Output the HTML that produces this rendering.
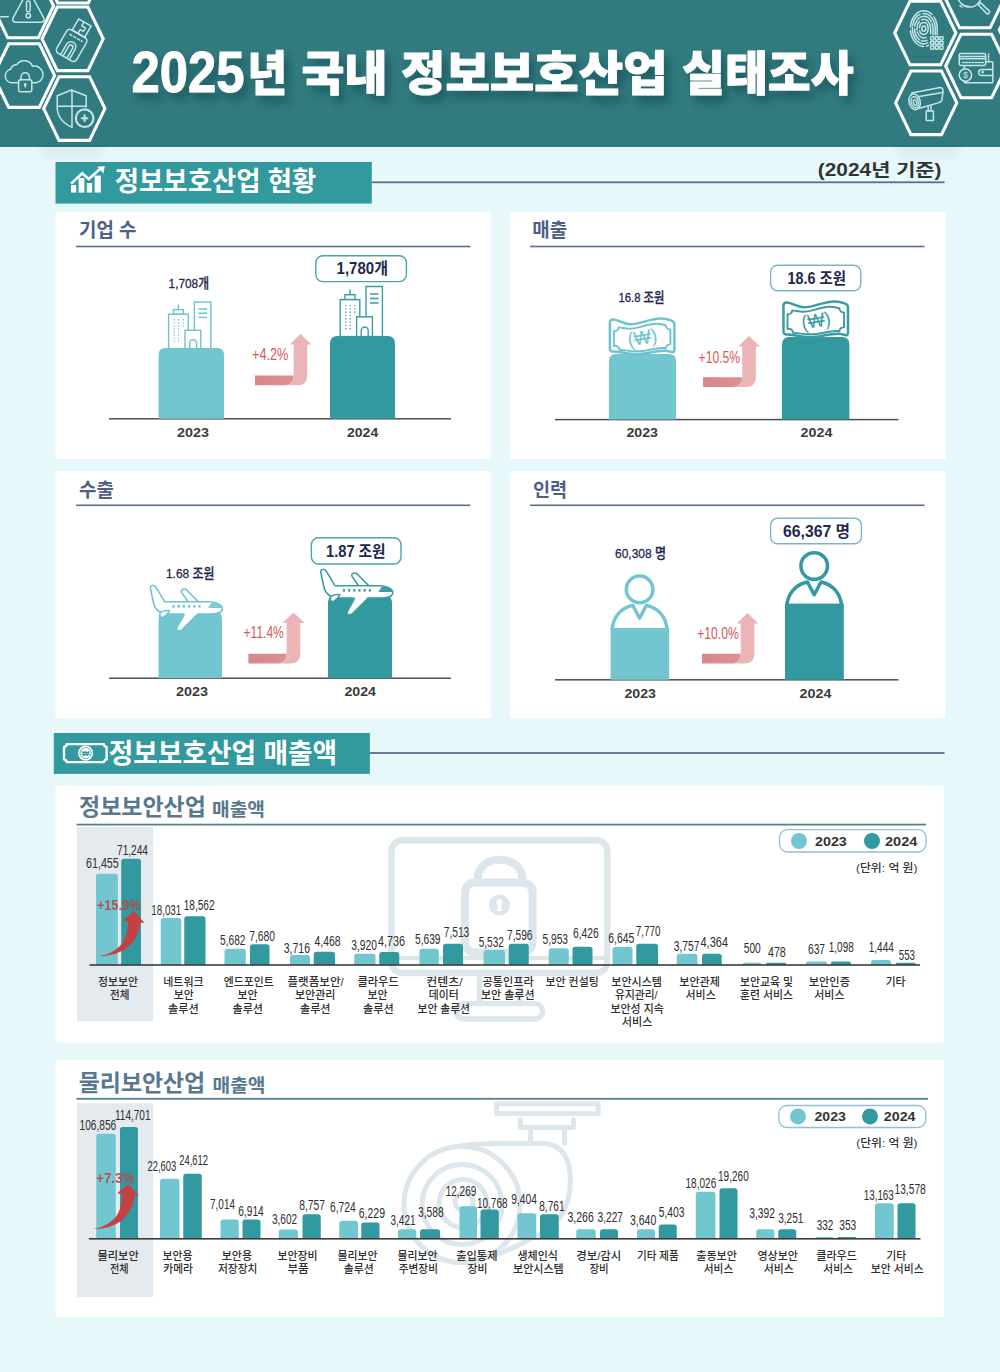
<!DOCTYPE html>
<html lang="ko"><head><meta charset="utf-8"><title>2025년 국내 정보보호산업 실태조사</title>
<style>
html,body{margin:0;padding:0;background:#e6f8f9;}
svg{display:block}
text{font-family:'Liberation Sans','Noto Sans CJK KR',sans-serif;}
</style></head><body>
<svg width="1000" height="1372" viewBox="0 0 1000 1372">
<defs>
<filter id="tsh" x="-5%" y="-30%" width="112%" height="180%"><feDropShadow dx="5" dy="7" stdDeviation="4" flood-color="#0d3338" flood-opacity="0.42"/></filter>
<filter id="hsh" x="-30%" y="-30%" width="160%" height="160%"><feGaussianBlur stdDeviation="5"/></filter>
<linearGradient id="ag" x1="0" x2="1" y1="0" y2="0"><stop offset="0" stop-color="#d8868a"/><stop offset="1" stop-color="#dc9194"/></linearGradient>
</defs>
<rect width="1000" height="1372" fill="#e6f8f9"/>

<rect x="0" y="0" width="1000" height="147" fill="#317b80"/>
<g opacity="0.07" filter="url(#hsh)"><ellipse cx="72" cy="150" rx="34" ry="6" fill="#0d3338"/><ellipse cx="928" cy="150" rx="34" ry="6" fill="#0d3338"/></g>
<clipPath id="hc"><rect x="0" y="0" width="1000" height="147"/></clipPath><g clip-path="url(#hc)">
<polygon points="-7.6,6.0 7.7,-25.8 38.3,-25.8 53.6,6.0 38.3,37.8 7.7,37.8" fill="none" stroke="#ffffff" stroke-width="3.1" stroke-linejoin="miter"/>
<polygon points="42.4,-28.8 57.7,-60.6 88.3,-60.6 103.6,-28.8 88.3,3.0 57.7,3.0" fill="none" stroke="#ffffff" stroke-width="3.1" stroke-linejoin="miter"/>
<polygon points="42.0,38.8 57.3,7.0 87.9,7.0 103.2,38.8 87.9,70.6 57.3,70.6" fill="none" stroke="#ffffff" stroke-width="3.1" stroke-linejoin="miter"/>
<polygon points="-6.6,75.6 8.7,43.8 39.3,43.8 54.6,75.6 39.3,107.4 8.7,107.4" fill="none" stroke="#ffffff" stroke-width="3.1" stroke-linejoin="miter"/>
<polygon points="43.7,108.6 59.0,76.8 89.6,76.8 104.9,108.6 89.6,140.4 59.0,140.4" fill="none" stroke="#ffffff" stroke-width="3.1" stroke-linejoin="miter"/>
<polygon points="894.7,33.0 910.0,1.2 940.6,1.2 955.9,33.0 940.6,64.8 910.0,64.8" fill="none" stroke="#ffffff" stroke-width="3.1" stroke-linejoin="miter"/>
<polygon points="944.2,-4.0 959.5,-35.8 990.1,-35.8 1005.4,-4.0 990.1,27.8 959.5,27.8" fill="none" stroke="#ffffff" stroke-width="3.1" stroke-linejoin="miter"/>
<polygon points="945.7,66.0 961.0,34.2 991.6,34.2 1006.9,66.0 991.6,97.8 961.0,97.8" fill="none" stroke="#ffffff" stroke-width="3.1" stroke-linejoin="miter"/>
<polygon points="895.6,102.8 910.9,71.0 941.5,71.0 956.8,102.8 941.5,134.6 910.9,134.6" fill="none" stroke="#ffffff" stroke-width="3.1" stroke-linejoin="miter"/>
<polygon points="999.4,30.0 1014.7,-1.8 1045.3,-1.8 1060.6,30.0 1045.3,61.8 1014.7,61.8" fill="none" stroke="#ffffff" stroke-width="3.1" stroke-linejoin="miter"/>
<g fill="none" stroke="#c4e6e7" stroke-width="1.5" stroke-linecap="round" stroke-linejoin="round"><path d="M13.2,17.6 L26,-6 Q28.4,-9.5 30.8,-6 L43.6,17.6 Q45.4,22 41,22.2 L15.8,22.2 Q11.4,22 13.2,17.6 Z"/><rect x="26.5" y="1" width="3.6" height="11" rx="1.7"/><circle cx="28.3" cy="15.8" r="2.2"/><path d="M0,16.8 H8.2"/></g>
<g fill="none" stroke="#c4e6e7" stroke-width="1.5" stroke-linecap="round" stroke-linejoin="round" transform="translate(73.4,42.4) rotate(30)"><rect x="-11.5" y="-10" width="23" height="27" rx="4"/><rect x="-7.2" y="-23" width="14.4" height="13"/><path d="M-1,-23 V-18.5 H3.2 V-14.5 H-0.5 V-10" /><path d="M-7,-5.2 H7" stroke-dasharray="2.2 2.2"/><path d="M-5,17 V5 A5,5 0 0 1 5,5 V17"/><path d="M-2.2,17 V5.5 A2.2,2.2 0 0 1 2.2,5.5 V17"/></g>
<g fill="none" stroke="#c4e6e7" stroke-width="1.5" stroke-linecap="round" stroke-linejoin="round"><path d="M18.6,82.8 H11.8 A6.9,6.9 0 0 1 10.6,69.2 A7,7 0 0 1 16.6,64.6 A9.2,9.2 0 0 1 32.6,66.2 A7.6,7.6 0 0 1 36.4,82.8 H31.8"/><rect x="18.6" y="79.8" width="13.2" height="12" rx="2"/><path d="M21,79.8 V77 A4.2,4.2 0 0 1 29.4,77 V79.8"/><path d="M25.2,84.6 V87"/><circle cx="25.2" cy="84.4" r="0.7"/></g>
<g fill="none" stroke="#c4e6e7" stroke-width="1.5" stroke-linecap="round" stroke-linejoin="round"><path d="M71.6,90 L57.2,95.8 V108 Q57.6,120.5 72,127.4 L72,90.2 L86.2,95.8 V107"/><path d="M57.3,106.2 H86"/><circle cx="84.6" cy="118.2" r="8.8" stroke-width="2.2"/><path d="M84.6,115.4 V121 M81.8,118.2 H87.4" stroke-width="2.1"/></g>
<g fill="none" stroke="#c4e6e7" stroke-width="1.5" stroke-linecap="round" stroke-linejoin="round" stroke-width="1"><ellipse cx="923.8" cy="28.6" rx="2" ry="2.6"/><ellipse cx="923.8" cy="28.6" rx="4.4" ry="6" stroke-dasharray="14 3"/><path d="M930.6,33.8 V28.6 A6.8,9.4 0 0 0 917.0,28.6 A6.8,9.4 0 0 0 926.2,37.4" stroke-dasharray="20 3 9 2"/><path d="M933.0,35.4 V28.6 A9.2,12.4 0 0 0 914.6,28.6 A9.2,12.4 0 0 0 927.0,40.3" stroke-dasharray="12 2 24 3"/><path d="M935.2,37.0 V28.6 A11.4,15.2 0 0 0 912.4,28.6 A11.4,15.2 0 0 0 927.8,42.9" stroke-dasharray="30 3 14 2"/><path d="M937.2,38.4 V28.6 A13.4,17.8 0 0 0 910.4,28.6 A13.4,17.8 0 0 0 928.5,45.3" stroke-dasharray="22 3 32 4"/></g>
<g fill="none" stroke="#c4e6e7" stroke-width="1.5" stroke-linecap="round" stroke-linejoin="round" fill="#317b80" stroke-width="1.1"><rect x="929" y="35.4" width="16" height="16" fill="#317b80" stroke="none"/><rect x="930.6" y="36.8" width="3.2" height="3.2" rx="0.7"/><rect x="935.2" y="36.8" width="3.2" height="3.2" rx="0.7"/><rect x="939.8" y="36.8" width="3.2" height="3.2" rx="0.7"/><rect x="930.6" y="41.4" width="3.2" height="3.2" rx="0.7"/><rect x="935.2" y="41.4" width="3.2" height="3.2" rx="0.7"/><rect x="939.8" y="41.4" width="3.2" height="3.2" rx="0.7"/><rect x="930.6" y="46.0" width="3.2" height="3.2" rx="0.7"/><rect x="935.2" y="46.0" width="3.2" height="3.2" rx="0.7"/><rect x="939.8" y="46.0" width="3.2" height="3.2" rx="0.7"/></g>
<g fill="none" stroke="#c4e6e7" stroke-width="1.5" stroke-linecap="round" stroke-linejoin="round"><circle cx="969.5" cy="-4.5" r="11.6"/><path d="M961,3 Q965,6.2 970,6.6" stroke-width="1"/><path d="M960,5.6 L962,7"/><path d="M978,4.6 L980.4,2.6 L989,10.6 A1.8,1.8 0 0 1 986.4,13.2 Z"/></g>
<g fill="none" stroke="#c4e6e7" stroke-width="1.5" stroke-linecap="round" stroke-linejoin="round" stroke-width="1.1"><rect x="964.2" y="61.8" width="28.6" height="21" rx="0.8"/><rect x="959.3" y="53.4" width="26.4" height="12" rx="1.6" fill="#317b80"/><path d="M959.5,56.4 H985.5 M959.5,58.8 H985.5"/><path d="M962.6,62.4 H983.4" stroke-dasharray="1.6 1.6"/><path d="M992.8,69.6 H981.6 A3,3 0 0 0 981.6,75.6 H992.8"/><circle cx="982.6" cy="72.2" r="0.6"/><circle cx="965.4" cy="75" r="6.2" fill="#317b80"/><path d="M988.6,54 V55 M988.6,56.6 V57.6 M988.6,59.2 V60.2" stroke-dasharray="none"/></g>
<text x="965.40" y="78.20" font-size="9" font-weight="400" fill="#c4e6e7" text-anchor="middle">$</text>
<g fill="none" stroke="#c4e6e7" stroke-width="1.5" stroke-linecap="round" stroke-linejoin="round" stroke-width="1.1"><path d="M911.6,93 L940,87.6 Q943.6,88 943,91.6 L942,99.4 Q941.6,102 939,102.6 L919.6,108.2"/><path d="M917.6,96.8 L942.6,92.4"/><ellipse cx="914.6" cy="101.8" rx="5.6" ry="8" transform="rotate(-14 914.6 101.8)"/><ellipse cx="914.8" cy="102.2" rx="3.6" ry="5.6" transform="rotate(-14 914.8 102.2)"/><ellipse cx="915" cy="102.6" rx="1.6" ry="2.8" transform="rotate(-14 915 102.6)"/><path d="M928.2,106.2 V111 M931,105.6 V111"/><rect x="926.2" y="111" width="7.2" height="9.6"/></g>
</g>
<g filter="url(#tsh)" fill="#ffffff" font-weight="900" stroke="#ffffff" stroke-width="0.9" stroke-linejoin="round">
<text x="131.50" y="92.20" font-size="57.5" font-weight="900" fill="#fff" text-anchor="start" textLength="113.00" lengthAdjust="spacingAndGlyphs">2025</text>
<text x="247.40" y="89.80" font-size="47" font-weight="900" fill="#fff" text-anchor="start" textLength="39.60" lengthAdjust="spacingAndGlyphs">년</text>
<text x="301.60" y="89.80" font-size="47" font-weight="900" fill="#fff" text-anchor="start" textLength="85.80" lengthAdjust="spacingAndGlyphs">국내</text>
<text x="401.00" y="89.80" font-size="47" font-weight="900" fill="#fff" text-anchor="start" textLength="266.60" lengthAdjust="spacingAndGlyphs">정보보호산업</text>
<text x="682.00" y="89.80" font-size="47" font-weight="900" fill="#fff" text-anchor="start" textLength="171.60" lengthAdjust="spacingAndGlyphs">실태조사</text>
</g>
<rect x="55.5" y="162" width="316.3" height="41.6" fill="#32999f"/>
<rect x="371.8" y="181.4" width="572.7" height="1.8" fill="#5b6d90"/>
<g fill="#fff"><rect x="71" y="185" width="5.2" height="7.6"/><rect x="78.6" y="178" width="5.8" height="14.6"/><rect x="86.8" y="183" width="5.3" height="9.6"/><rect x="94.6" y="175.6" width="6.2" height="17"/><path d="M71.2,183.6 L82.2,173.2 L88.8,179 L100.6,168.6" fill="none" stroke="#fff" stroke-width="2.6" stroke-linejoin="miter"/><polygon points="97.2,166.8 104.8,166 103.6,173.6"/></g>
<text x="114.80" y="191.10" font-size="27" font-weight="700" fill="#fff" text-anchor="start" textLength="201.60" lengthAdjust="spacingAndGlyphs">정보보호산업 현황</text>
<text x="817.80" y="176.40" font-size="17.5" font-weight="700" fill="#333" text-anchor="start" textLength="123.70" lengthAdjust="spacingAndGlyphs">(2024년 기준)</text>
<rect x="53.8" y="733" width="316.1" height="40.9" fill="#32999f"/>
<rect x="369.90000000000003" y="752.1" width="574.5999999999999" height="1.8" fill="#5b6d90"/>
<g fill="none" stroke="#fff" stroke-width="2.3" stroke-linejoin="round"><path d="M66.6,744.2 H104 A2.6,2.6 0 0 0 106.6,746.8 V759.6 A2.6,2.6 0 0 0 104,762.2 H66.6 A2.6,2.6 0 0 0 64,759.6 V746.8 A2.6,2.6 0 0 0 66.6,744.2 Z"/></g><circle cx="85.6" cy="753.1" r="7.6" fill="#fff"/><circle cx="85.6" cy="753.1" r="5.6" fill="none" stroke="#32999f" stroke-width="0.8"/>
<text x="85.60" y="756.00" font-size="8" font-weight="700" fill="#32999f" text-anchor="middle">₩</text>
<text x="108.80" y="763.00" font-size="27.4" font-weight="700" fill="#fff" text-anchor="start" textLength="228.20" lengthAdjust="spacingAndGlyphs">정보보호산업 매출액</text>
<rect x="55.5" y="212.3" width="435.5" height="246.7" fill="#fff"/>
<rect x="510" y="212.3" width="435.5" height="246.7" fill="#fff"/>
<rect x="55.5" y="471.2" width="435.5" height="246.8" fill="#fff"/>
<rect x="510" y="471.2" width="435.5" height="246.8" fill="#fff"/>
<text x="79.00" y="237.40" font-size="19.6" font-weight="700" fill="#4d5f86" text-anchor="start" textLength="57.50" lengthAdjust="spacingAndGlyphs">기업 수</text>
<rect x="76" y="245.7" width="394.3" height="1.6" fill="#5b6d90"/>
<text x="532.30" y="237.40" font-size="19.6" font-weight="700" fill="#4d5f86" text-anchor="start" textLength="34.90" lengthAdjust="spacingAndGlyphs">매출</text>
<rect x="530" y="245.7" width="394.5" height="1.6" fill="#5b6d90"/>
<text x="79.00" y="496.60" font-size="19.6" font-weight="700" fill="#4d5f86" text-anchor="start" textLength="34.80" lengthAdjust="spacingAndGlyphs">수출</text>
<rect x="76" y="504.5" width="394.3" height="1.6" fill="#5b6d90"/>
<text x="533.00" y="496.60" font-size="19.6" font-weight="700" fill="#4d5f86" text-anchor="start" textLength="34.20" lengthAdjust="spacingAndGlyphs">인력</text>
<rect x="530" y="504.5" width="394.5" height="1.6" fill="#5b6d90"/>
<rect x="109" y="418.05" width="342" height="1.5" fill="#4f4f4f"/>
<path d="M158.6,418.8 V355 Q158.6,348 165.6,348 H217 Q224,348 224,355 V418.8 Z" fill="#72c6cf"/>
<g transform="translate(168.6,348.6) scale(1,1.0)" fill="#fff" stroke="#6ec4cd" stroke-width="1.4" stroke-linejoin="miter"><path d="M9.8,-44 V-39" fill="none"/><rect x="4.8" y="-39" width="10" height="4.6"/><rect x="0" y="-34.4" width="19.6" height="34.4"/><rect x="25.8" y="-46.6" width="16.4" height="46.6"/><path d="M29.8,-39.6 H38.4 M29.8,-35.4 H38.4 M29.8,-31.2 H38.4" fill="none"/><rect x="16.4" y="-18.4" width="15.8" height="18.4"/><path d="M21,0 V-5.4 A3.5,3.5 0 0 1 28,-5.4 V0" fill="none"/><path d="M5.6,-29.5 V-6" fill="none" stroke-width="1.2" stroke-dasharray="1.3 1.77"/><path d="M10,-29.5 V-6" fill="none" stroke-width="1.2" stroke-dasharray="1.3 1.77"/><path d="M14.6,-29.5 V-21.4" fill="none" stroke-width="1.2" stroke-dasharray="1.3 1.77"/></g>
<path d="M330,418.8 V343.5 Q330,336 337.5,336 H387.5 Q395,336 395,343.5 V418.8 Z" fill="#31999f"/>
<g transform="translate(340.2,336.6) scale(1,1.075)" fill="#fff" stroke="#3a9ca3" stroke-width="1.4" stroke-linejoin="miter"><path d="M9.8,-44 V-39" fill="none"/><rect x="4.8" y="-39" width="10" height="4.6"/><rect x="0" y="-34.4" width="19.6" height="34.4"/><rect x="25.8" y="-46.6" width="16.4" height="46.6"/><path d="M29.8,-39.6 H38.4 M29.8,-35.4 H38.4 M29.8,-31.2 H38.4" fill="none"/><rect x="16.4" y="-18.4" width="15.8" height="18.4"/><path d="M21,0 V-5.4 A3.5,3.5 0 0 1 28,-5.4 V0" fill="none"/><path d="M5.6,-29.5 V-6" fill="none" stroke-width="1.2" stroke-dasharray="1.3 1.77"/><path d="M10,-29.5 V-6" fill="none" stroke-width="1.2" stroke-dasharray="1.3 1.77"/><path d="M14.6,-29.5 V-21.4" fill="none" stroke-width="1.2" stroke-dasharray="1.3 1.77"/></g>
<text x="168.60" y="288.00" font-size="13.6" font-weight="500" fill="#1f2850" text-anchor="start" textLength="40.40" lengthAdjust="spacingAndGlyphs" stroke="#1f2850" stroke-width="0.3">1,708개</text>
<rect x="315.8" y="255.8" width="90.59999999999997" height="25.80000000000001" rx="7" fill="#fff" stroke="#4ea3ab" stroke-width="1.4"/>
<text x="336.60" y="274.20" font-size="15.6" font-weight="700" fill="#1f2850" text-anchor="start" textLength="51.40" lengthAdjust="spacingAndGlyphs">1,780개</text>
<text x="252.00" y="359.80" font-size="16" font-weight="400" fill="#d9575a" text-anchor="start" textLength="36.40" lengthAdjust="spacingAndGlyphs">+4.2%</text>
<path d="M255,375.4 H293.7 Q293.7,385.2 282.7,385.2 H255 Z" fill="url(#ag)"/>
<path d="M293.7,344.6 H289.7 L300.5,334 L311.3,344.6 H307.3 V375.2 Q307.3,385.2 297.3,385.2 H282.7 Q293.7,385.2 293.7,375.4 Z" fill="#ebb4b6"/>
<text x="177.00" y="437.20" font-size="12.6" font-weight="700" fill="#3a3a3a" text-anchor="start" textLength="32.00" lengthAdjust="spacingAndGlyphs">2023</text>
<text x="347.00" y="437.20" font-size="12.6" font-weight="700" fill="#3a3a3a" text-anchor="start" textLength="31.20" lengthAdjust="spacingAndGlyphs">2024</text>
<rect x="555" y="418.85" width="343.5" height="1.5" fill="#4f4f4f"/>
<path d="M609,419.6 V361 Q609,354 616,354 H669 Q676,354 676,361 V419.6 Z" fill="#72c6cf"/>
<g transform="translate(608,317.8)" fill="#fff" stroke="#6ec4cd" stroke-linejoin="round"><path stroke-width="2.5" d="M1.9,5.6 Q1.6,1.6 5.4,1.7 C11,2 15,6.5 22,6.5 C33,6.5 42,0.6 53,0.7 C58,0.8 61,1.8 63.6,2.8 Q66.4,3.8 66.4,6.6 V31.6 Q66.6,35 63.4,34.2 C60,33.2 58.6,33 56.6,33 C46,33 38,36.4 28,36.3 C18,36.2 12,33.6 5.4,33.6 Q1.9,33.8 1.9,30.6 Z"/><path stroke-width="1.9" fill="none" d="M10.6,9.6 C14,9.8 17,11 21.6,11 C31,11 38,6 48,6 C52,6 55,6.8 57.8,7.4 A4,4 0 0 0 62.4,11.6 V26.6 A4,4 0 0 0 57.8,30.5 C56,30.2 54,30.2 52,30.4 C43,31.2 37,33.6 28,33.5 C21,33.4 16,32.2 11.4,32 A4,4 0 0 0 5.9,28.2 V13.4 A4,4 0 0 0 10.6,9.6 Z"/></g>
<text x="642.40" y="344.20" font-size="19.5" font-weight="400" fill="#6ec4cd" text-anchor="middle" textLength="29.50" lengthAdjust="spacingAndGlyphs" transform="rotate(-9 642.4 337.8)">(₩)</text>
<path d="M782,419.6 V344.5 Q782,337 789.5,337 H841.9 Q849.4,337 849.4,344.5 V419.6 Z" fill="#31999f"/>
<g transform="translate(781.6,300.8)" fill="#fff" stroke="#3a9ca3" stroke-linejoin="round"><path stroke-width="2.5" d="M1.9,5.6 Q1.6,1.6 5.4,1.7 C11,2 15,6.5 22,6.5 C33,6.5 42,0.6 53,0.7 C58,0.8 61,1.8 63.6,2.8 Q66.4,3.8 66.4,6.6 V31.6 Q66.6,35 63.4,34.2 C60,33.2 58.6,33 56.6,33 C46,33 38,36.4 28,36.3 C18,36.2 12,33.6 5.4,33.6 Q1.9,33.8 1.9,30.6 Z"/><path stroke-width="1.9" fill="none" d="M10.6,9.6 C14,9.8 17,11 21.6,11 C31,11 38,6 48,6 C52,6 55,6.8 57.8,7.4 A4,4 0 0 0 62.4,11.6 V26.6 A4,4 0 0 0 57.8,30.5 C56,30.2 54,30.2 52,30.4 C43,31.2 37,33.6 28,33.5 C21,33.4 16,32.2 11.4,32 A4,4 0 0 0 5.9,28.2 V13.4 A4,4 0 0 0 10.6,9.6 Z"/></g>
<text x="816.00" y="327.20" font-size="19.5" font-weight="400" fill="#3a9ca3" text-anchor="middle" textLength="29.50" lengthAdjust="spacingAndGlyphs" transform="rotate(-9 816.0 320.8)">(₩)</text>
<text x="618.40" y="301.60" font-size="13.6" font-weight="500" fill="#1f2850" text-anchor="start" textLength="46.00" lengthAdjust="spacingAndGlyphs" stroke="#1f2850" stroke-width="0.3">16.8 조원</text>
<rect x="770.6" y="265.2" width="90.19999999999993" height="25.600000000000023" rx="7" fill="#fff" stroke="#7db3c4" stroke-width="1.4"/>
<text x="787.60" y="284.20" font-size="15.6" font-weight="700" fill="#1f2850" text-anchor="start" textLength="58.40" lengthAdjust="spacingAndGlyphs">18.6 조원</text>
<text x="698.60" y="362.60" font-size="16" font-weight="400" fill="#d9575a" text-anchor="start" textLength="41.60" lengthAdjust="spacingAndGlyphs">+10.5%</text>
<path d="M703,377.2 H742.2 Q742.2,387 731.2,387 H703 Z" fill="url(#ag)"/>
<path d="M742.2,346.6 H738.2 L749,336 L759.8,346.6 H755.8 V377 Q755.8,387 745.8,387 H731.2 Q742.2,387 742.2,377.2 Z" fill="#ebb4b6"/>
<text x="626.40" y="437.40" font-size="12.6" font-weight="700" fill="#3a3a3a" text-anchor="start" textLength="31.60" lengthAdjust="spacingAndGlyphs">2023</text>
<text x="800.60" y="437.40" font-size="12.6" font-weight="700" fill="#3a3a3a" text-anchor="start" textLength="31.80" lengthAdjust="spacingAndGlyphs">2024</text>
<rect x="109" y="677.45" width="342" height="1.5" fill="#4f4f4f"/>
<path d="M158.6,678.2 V618.6 Q158.6,611.6 165.6,611.6 H215 Q222,611.6 222,618.6 V678.2 Z" fill="#72c6cf"/>
<g transform="translate(149.6,585)" fill="#fff" stroke="#6ec4cd" stroke-width="1.6" stroke-linejoin="round" stroke-linecap="round"><path d="M38.6,16.7 L32.2,7.6 Q30.8,5 33.4,4.2 Q35.6,3.6 37.4,5.2 L48.8,16.7 Z"/><path d="M0.9,3.6 Q0.4,0.6 3.2,0.3 Q5.2,0.2 6.4,2.4 L15,16.7 H60.4 Q68,17 71.4,20.6 Q74.4,24 71,27 Q68.6,28.8 62,29 H21 Q12.6,29.4 8.2,25.4 Q4.6,22.4 3.8,17.6 Z"/><path d="M61.9,17.4 Q67.6,17.6 70.6,20 Q72.6,21.8 72.6,23 H58.4 Z" fill="#7fcbd3" stroke="none"/><path d="M11.4,27 Q15.6,25 19.8,25.8 Q17.8,30.2 14,32.2 Q11,33.2 10.2,30.6 Q10,28.6 11.4,27 Z"/><path d="M34.8,27.6 L27.4,42.4 Q26.4,45.2 28.8,45.8 Q31,46.2 32.8,44.4 L47.4,29.4 L46.6,26.4 Z" stroke="none"/><path d="M34.4,29.8 L27.4,42.4 Q26.4,45.2 28.8,45.8 Q31,46.2 32.8,44.4 L47.4,29.8" fill="none"/><rect x="22.8" y="19.9" width="2.2" height="2.9" rx="0.7" fill="#6ec4cd" stroke="none"/><rect x="28.0" y="19.9" width="2.2" height="2.9" rx="0.7" fill="#6ec4cd" stroke="none"/><rect x="33.2" y="19.9" width="2.2" height="2.9" rx="0.7" fill="#6ec4cd" stroke="none"/><rect x="38.4" y="19.9" width="2.2" height="2.9" rx="0.7" fill="#6ec4cd" stroke="none"/><rect x="43.6" y="19.9" width="2.2" height="2.9" rx="0.7" fill="#6ec4cd" stroke="none"/><rect x="48.8" y="19.9" width="2.2" height="2.9" rx="0.7" fill="#6ec4cd" stroke="none"/></g>
<path d="M328,678.2 V603.1 Q328,595.6 335.5,595.6 H384.5 Q392,595.6 392,603.1 V678.2 Z" fill="#31999f"/>
<g transform="translate(320,569)" fill="#fff" stroke="#3a9ca3" stroke-width="1.6" stroke-linejoin="round" stroke-linecap="round"><path d="M38.6,16.7 L32.2,7.6 Q30.8,5 33.4,4.2 Q35.6,3.6 37.4,5.2 L48.8,16.7 Z"/><path d="M0.9,3.6 Q0.4,0.6 3.2,0.3 Q5.2,0.2 6.4,2.4 L15,16.7 H60.4 Q68,17 71.4,20.6 Q74.4,24 71,27 Q68.6,28.8 62,29 H21 Q12.6,29.4 8.2,25.4 Q4.6,22.4 3.8,17.6 Z"/><path d="M61.9,17.4 Q67.6,17.6 70.6,20 Q72.6,21.8 72.6,23 H58.4 Z" fill="#3a9ca3" stroke="none"/><path d="M11.4,27 Q15.6,25 19.8,25.8 Q17.8,30.2 14,32.2 Q11,33.2 10.2,30.6 Q10,28.6 11.4,27 Z"/><path d="M34.8,27.6 L27.4,42.4 Q26.4,45.2 28.8,45.8 Q31,46.2 32.8,44.4 L47.4,29.4 L46.6,26.4 Z" stroke="none"/><path d="M34.4,29.8 L27.4,42.4 Q26.4,45.2 28.8,45.8 Q31,46.2 32.8,44.4 L47.4,29.8" fill="none"/><rect x="22.8" y="19.9" width="2.2" height="2.9" rx="0.7" fill="#3a9ca3" stroke="none"/><rect x="28.0" y="19.9" width="2.2" height="2.9" rx="0.7" fill="#3a9ca3" stroke="none"/><rect x="33.2" y="19.9" width="2.2" height="2.9" rx="0.7" fill="#3a9ca3" stroke="none"/><rect x="38.4" y="19.9" width="2.2" height="2.9" rx="0.7" fill="#3a9ca3" stroke="none"/><rect x="43.6" y="19.9" width="2.2" height="2.9" rx="0.7" fill="#3a9ca3" stroke="none"/><rect x="48.8" y="19.9" width="2.2" height="2.9" rx="0.7" fill="#3a9ca3" stroke="none"/></g>
<text x="166.00" y="577.60" font-size="13.6" font-weight="500" fill="#1f2850" text-anchor="start" textLength="48.40" lengthAdjust="spacingAndGlyphs" stroke="#1f2850" stroke-width="0.3">1.68 조원</text>
<rect x="311.4" y="537.8" width="89.60000000000002" height="26.200000000000045" rx="7" fill="#fff" stroke="#4ea3ab" stroke-width="1.4"/>
<text x="326.00" y="557.00" font-size="15.6" font-weight="700" fill="#1f2850" text-anchor="start" textLength="59.60" lengthAdjust="spacingAndGlyphs">1.87 조원</text>
<text x="243.60" y="638.40" font-size="16" font-weight="400" fill="#d9575a" text-anchor="start" textLength="40.20" lengthAdjust="spacingAndGlyphs">+11.4%</text>
<path d="M248.4,653.8000000000001 H286.7 Q286.7,663.6 275.7,663.6 H248.4 Z" fill="url(#ag)"/>
<path d="M286.7,623.0 H282.7 L293.5,612.4 L304.3,623.0 H300.3 V653.6 Q300.3,663.6 290.3,663.6 H275.7 Q286.7,663.6 286.7,653.8000000000001 Z" fill="#ebb4b6"/>
<text x="176.00" y="696.20" font-size="12.6" font-weight="700" fill="#3a3a3a" text-anchor="start" textLength="32.00" lengthAdjust="spacingAndGlyphs">2023</text>
<text x="344.40" y="696.20" font-size="12.6" font-weight="700" fill="#3a3a3a" text-anchor="start" textLength="31.60" lengthAdjust="spacingAndGlyphs">2024</text>
<rect x="555" y="679.05" width="343.5" height="1.5" fill="#4f4f4f"/>
<g transform="translate(639.6,589.4)" fill="#fff" stroke="#72c6cf" stroke-width="3.5" stroke-linejoin="round" stroke-linecap="round"><path d="M-27.4,41 C-27,28 -19,18.6 -6.8,16 L0,28.8 L6.8,16 C19,18.6 27,28 27.4,41 Z"/><circle cx="0" cy="0" r="13.3"/></g>
<rect x="610.6" y="628" width="58.6" height="51.8" fill="#72c6cf"/>
<g transform="translate(814.2,566)" fill="#fff" stroke="#31999f" stroke-width="3.5" stroke-linejoin="round" stroke-linecap="round"><path d="M-27.4,41 C-27,28 -19,18.6 -6.8,16 L0,28.8 L6.8,16 C19,18.6 27,28 27.4,41 Z"/><circle cx="0" cy="0" r="13.3"/></g>
<rect x="785" y="603.6" width="58.8" height="76.2" fill="#31999f"/>
<text x="615.00" y="558.00" font-size="13.6" font-weight="500" fill="#1f2850" text-anchor="start" textLength="51.00" lengthAdjust="spacingAndGlyphs" stroke="#1f2850" stroke-width="0.3">60,308 명</text>
<rect x="770.6" y="518.2" width="90.79999999999995" height="25.59999999999991" rx="7" fill="#fff" stroke="#7db3c4" stroke-width="1.4"/>
<text x="783.00" y="537.40" font-size="15.6" font-weight="700" fill="#1f2850" text-anchor="start" textLength="67.00" lengthAdjust="spacingAndGlyphs">66,367 명</text>
<text x="697.20" y="639.20" font-size="16" font-weight="400" fill="#d9575a" text-anchor="start" textLength="41.60" lengthAdjust="spacingAndGlyphs">+10.0%</text>
<path d="M702,653.8000000000001 H740.7 Q740.7,663.6 729.7,663.6 H702 Z" fill="url(#ag)"/>
<path d="M740.7,623.6 H736.7 L747.5,613 L758.3,623.6 H754.3 V653.6 Q754.3,663.6 744.3,663.6 H729.7 Q740.7,663.6 740.7,653.8000000000001 Z" fill="#ebb4b6"/>
<text x="624.40" y="697.60" font-size="12.6" font-weight="700" fill="#3a3a3a" text-anchor="start" textLength="31.60" lengthAdjust="spacingAndGlyphs">2023</text>
<text x="799.60" y="697.60" font-size="12.6" font-weight="700" fill="#3a3a3a" text-anchor="start" textLength="32.00" lengthAdjust="spacingAndGlyphs">2024</text>
<rect x="55.5" y="786" width="888.3" height="256.5" fill="#fff"/>
<text x="79.00" y="815.20" font-size="22.8" font-weight="700" fill="#58788f" text-anchor="start" textLength="126.80" lengthAdjust="spacingAndGlyphs">정보보안산업</text>
<text x="212.00" y="815.80" font-size="18.2" font-weight="700" fill="#58788f" text-anchor="start" textLength="53.00" lengthAdjust="spacingAndGlyphs">매출액</text>
<rect x="76.5" y="823.7" width="849.5" height="1.8" fill="#588094"/>
<rect x="77" y="827" width="76" height="194.29999999999995" fill="#e4eaee"/>
<g fill="none" stroke="#dde6ea" stroke-linejoin="round" stroke-linecap="round"><rect x="391.4" y="840.2" width="215.9" height="132.8" rx="11" stroke-width="6.4"/><path d="M392,958 H607" stroke-width="4.6"/><path d="M479.6,976 V1002 M519.6,976 V1002" stroke-width="5.4"/><rect x="456" y="1003.6" width="86.6" height="15.4" rx="7.7" stroke-width="5.4"/><rect x="465" y="882.4" width="67.6" height="70" rx="10" stroke-width="8"/><path d="M478,881 V877 A22,17.2 0 0 1 522,877 V881" stroke-width="8"/></g><circle cx="499.4" cy="905" r="10.6" fill="#dde6ea"/><path d="M499.4,899 a3,3 0 0 1 1.7,5.5 l0.8,6.4 h-5 l0.8,-6.4 a3,3 0 0 1 1.7,-5.5 z" fill="#ffffff"/>
<rect x="779.5" y="829.6" width="146.5" height="22.399999999999977" rx="8" fill="#fff" stroke="#8fc0d3" stroke-width="1.3"/>
<circle cx="799" cy="841" r="8" fill="#72c6cf"/><circle cx="872" cy="841" r="8" fill="#31999f"/>
<text x="815.00" y="845.70" font-size="13.4" font-weight="700" fill="#333" text-anchor="start" textLength="31.80" lengthAdjust="spacingAndGlyphs">2023</text>
<text x="885.00" y="845.70" font-size="13.4" font-weight="700" fill="#333" text-anchor="start" textLength="32.50" lengthAdjust="spacingAndGlyphs">2024</text>
<text x="856.00" y="872.40" font-size="11.6" font-weight="500" fill="#333" text-anchor="start" textLength="61.50" lengthAdjust="spacingAndGlyphs">(단위: 억 원)</text>
<path d="M96,965 V876.55 Q96,873.75 98.8,873.75 H115.0 Q117.8,873.75 117.8,876.55 V965 Z" fill="#72c6cf"/>
<path d="M121.2,965 V861.55 Q121.2,858.75 124.0,858.75 H138.2 Q141,858.75 141,861.55 V965 Z" fill="#31999f"/>
<path d="M160.75,965 V920.8 Q160.75,918 163.55,918 H178.45 Q181.25,918 181.25,920.8 V965 Z" fill="#72c6cf"/>
<path d="M184.25,965 V919.05 Q184.25,916.25 187.05,916.25 H202.7 Q205.5,916.25 205.5,919.05 V965 Z" fill="#31999f"/>
<path d="M224.5,965 V951.55 Q224.5,948.75 227.3,948.75 H242.95 Q245.75,948.75 245.75,951.55 V965 Z" fill="#72c6cf"/>
<path d="M250,965 V947.05 Q250,944.25 252.8,944.25 H266.7 Q269.5,944.25 269.5,947.05 V965 Z" fill="#31999f"/>
<path d="M290,965 V957.8 Q290,955 292.8,955 H307.2 Q310,955 310,957.8 V965 Z" fill="#72c6cf"/>
<path d="M313.75,965 V954.55 Q313.75,951.75 316.55,951.75 H332.2 Q335,951.75 335,954.55 V965 Z" fill="#31999f"/>
<path d="M354.25,965 V956.55 Q354.25,953.75 357.05,953.75 H372.7 Q375.5,953.75 375.5,956.55 V965 Z" fill="#72c6cf"/>
<path d="M379.25,965 V954.8 Q379.25,952 382.05,952 H396.45 Q399.25,952 399.25,954.8 V965 Z" fill="#31999f"/>
<path d="M419.5,965 V951.55 Q419.5,948.75 422.3,948.75 H435.95 Q438.75,948.75 438.75,951.55 V965 Z" fill="#72c6cf"/>
<path d="M443,965 V946.55 Q443,943.75 445.8,943.75 H460.2 Q463,943.75 463,946.55 V965 Z" fill="#31999f"/>
<path d="M483.6,965 V952.8 Q483.6,950 486.40000000000003,950 H502.2 Q505,950 505,952.8 V965 Z" fill="#72c6cf"/>
<path d="M508.75,965 V946.55 Q508.75,943.75 511.55,943.75 H525.95 Q528.75,943.75 528.75,946.55 V965 Z" fill="#31999f"/>
<path d="M548.75,965 V951.05 Q548.75,948.25 551.55,948.25 H565.95 Q568.75,948.25 568.75,951.05 V965 Z" fill="#72c6cf"/>
<path d="M572.5,965 V949.55 Q572.5,946.75 575.3,946.75 H589.7 Q592.5,946.75 592.5,949.55 V965 Z" fill="#31999f"/>
<path d="M612.5,965 V949.8 Q612.5,947 615.3,947 H629.7 Q632.5,947 632.5,949.8 V965 Z" fill="#72c6cf"/>
<path d="M636.25,965 V946.55 Q636.25,943.75 639.05,943.75 H655.2 Q658,943.75 658,946.55 V965 Z" fill="#31999f"/>
<path d="M676.75,965 V956.55 Q676.75,953.75 679.55,953.75 H694.7 Q697.5,953.75 697.5,956.55 V965 Z" fill="#72c6cf"/>
<path d="M702,965 V956.55 Q702,953.75 704.8,953.75 H718.95 Q721.75,953.75 721.75,956.55 V965 Z" fill="#31999f"/>
<path d="M743,965 V963.9 Q743,962.8 744.1,962.8 H759.9 Q761,962.8 761,963.9 V965 Z" fill="#72c6cf"/>
<path d="M766,965 V963.9 Q766,962.8 767.1,962.8 H784.9 Q786,962.8 786,963.9 V965 Z" fill="#31999f"/>
<path d="M806,965 V963.3 Q806,961.6 807.7,961.6 H825.3 Q827,961.6 827,963.3 V965 Z" fill="#72c6cf"/>
<path d="M831,965 V963.3 Q831,961.6 832.7,961.6 H849.05 Q850.75,961.6 850.75,963.3 V965 Z" fill="#31999f"/>
<path d="M871,965 V962.5 Q871,960 873.5,960 H888.5 Q891,960 891,962.5 V965 Z" fill="#72c6cf"/>
<path d="M895.75,965 V963.9 Q895.75,962.8 896.85,962.8 H914.4 Q915.5,962.8 915.5,963.9 V965 Z" fill="#31999f"/>
<rect x="89.5" y="964.2" width="830.5" height="1.6" fill="#3c3c3c"/>
<text x="86.00" y="867.50" font-size="14.2" font-weight="400" fill="#2d2d2d" text-anchor="start" textLength="32.75" lengthAdjust="spacingAndGlyphs">61,455</text>
<text x="117.00" y="854.50" font-size="14.2" font-weight="400" fill="#2d2d2d" text-anchor="start" textLength="31.00" lengthAdjust="spacingAndGlyphs">71,244</text>
<text x="151.25" y="915.00" font-size="14.2" font-weight="400" fill="#2d2d2d" text-anchor="start" textLength="30.00" lengthAdjust="spacingAndGlyphs">18,031</text>
<text x="183.75" y="910.00" font-size="14.2" font-weight="400" fill="#2d2d2d" text-anchor="start" textLength="30.75" lengthAdjust="spacingAndGlyphs">18,562</text>
<text x="220.00" y="945.00" font-size="14.2" font-weight="400" fill="#2d2d2d" text-anchor="start" textLength="25.50" lengthAdjust="spacingAndGlyphs">5,682</text>
<text x="249.25" y="940.50" font-size="14.2" font-weight="400" fill="#2d2d2d" text-anchor="start" textLength="25.75" lengthAdjust="spacingAndGlyphs">7,680</text>
<text x="283.75" y="952.50" font-size="14.2" font-weight="400" fill="#2d2d2d" text-anchor="start" textLength="26.25" lengthAdjust="spacingAndGlyphs">3,716</text>
<text x="314.50" y="945.50" font-size="14.2" font-weight="400" fill="#2d2d2d" text-anchor="start" textLength="26.00" lengthAdjust="spacingAndGlyphs">4,468</text>
<text x="351.25" y="950.00" font-size="14.2" font-weight="400" fill="#2d2d2d" text-anchor="start" textLength="25.75" lengthAdjust="spacingAndGlyphs">3,920</text>
<text x="378.00" y="945.50" font-size="14.2" font-weight="400" fill="#2d2d2d" text-anchor="start" textLength="27.00" lengthAdjust="spacingAndGlyphs">4,736</text>
<text x="415.00" y="944.25" font-size="14.2" font-weight="400" fill="#2d2d2d" text-anchor="start" textLength="25.50" lengthAdjust="spacingAndGlyphs">5,639</text>
<text x="443.75" y="937.00" font-size="14.2" font-weight="400" fill="#2d2d2d" text-anchor="start" textLength="25.50" lengthAdjust="spacingAndGlyphs">7,513</text>
<text x="478.75" y="947.00" font-size="14.2" font-weight="400" fill="#2d2d2d" text-anchor="start" textLength="25.00" lengthAdjust="spacingAndGlyphs">5,532</text>
<text x="507.00" y="940.00" font-size="14.2" font-weight="400" fill="#2d2d2d" text-anchor="start" textLength="25.50" lengthAdjust="spacingAndGlyphs">7,596</text>
<text x="542.50" y="943.75" font-size="14.2" font-weight="400" fill="#2d2d2d" text-anchor="start" textLength="25.50" lengthAdjust="spacingAndGlyphs">5,953</text>
<text x="573.00" y="937.50" font-size="14.2" font-weight="400" fill="#2d2d2d" text-anchor="start" textLength="25.75" lengthAdjust="spacingAndGlyphs">6,426</text>
<text x="608.25" y="942.50" font-size="14.2" font-weight="400" fill="#2d2d2d" text-anchor="start" textLength="26.00" lengthAdjust="spacingAndGlyphs">6,645</text>
<text x="635.75" y="935.50" font-size="14.2" font-weight="400" fill="#2d2d2d" text-anchor="start" textLength="24.75" lengthAdjust="spacingAndGlyphs">7,770</text>
<text x="673.75" y="951.25" font-size="14.2" font-weight="400" fill="#2d2d2d" text-anchor="start" textLength="25.75" lengthAdjust="spacingAndGlyphs">3,757</text>
<text x="700.50" y="947.00" font-size="14.2" font-weight="400" fill="#2d2d2d" text-anchor="start" textLength="27.50" lengthAdjust="spacingAndGlyphs">4,364</text>
<text x="743.75" y="953.25" font-size="14.2" font-weight="400" fill="#2d2d2d" text-anchor="start" textLength="17.00" lengthAdjust="spacingAndGlyphs">500</text>
<text x="768.00" y="957.00" font-size="14.2" font-weight="400" fill="#2d2d2d" text-anchor="start" textLength="17.75" lengthAdjust="spacingAndGlyphs">478</text>
<text x="808.00" y="953.75" font-size="14.2" font-weight="400" fill="#2d2d2d" text-anchor="start" textLength="17.00" lengthAdjust="spacingAndGlyphs">637</text>
<text x="828.75" y="951.75" font-size="14.2" font-weight="400" fill="#2d2d2d" text-anchor="start" textLength="25.00" lengthAdjust="spacingAndGlyphs">1,098</text>
<text x="868.75" y="951.75" font-size="14.2" font-weight="400" fill="#2d2d2d" text-anchor="start" textLength="25.00" lengthAdjust="spacingAndGlyphs">1,444</text>
<text x="898.75" y="960.00" font-size="14.2" font-weight="400" fill="#2d2d2d" text-anchor="start" textLength="16.25" lengthAdjust="spacingAndGlyphs">553</text>
<text x="98.00" y="986.00" font-size="11.7" font-weight="500" fill="#2f2f2f" text-anchor="start" textLength="40.00" lengthAdjust="spacingAndGlyphs">정보보안</text>
<text x="110.00" y="999.40" font-size="11.7" font-weight="500" fill="#2f2f2f" text-anchor="start" textLength="19.50" lengthAdjust="spacingAndGlyphs">전체</text>
<text x="163.25" y="986.00" font-size="11.7" font-weight="500" fill="#2f2f2f" text-anchor="start" textLength="40.50" lengthAdjust="spacingAndGlyphs">네트워크</text>
<text x="173.75" y="999.40" font-size="11.7" font-weight="500" fill="#2f2f2f" text-anchor="start" textLength="20.00" lengthAdjust="spacingAndGlyphs">보안</text>
<text x="168.00" y="1012.80" font-size="11.7" font-weight="500" fill="#2f2f2f" text-anchor="start" textLength="30.75" lengthAdjust="spacingAndGlyphs">솔루션</text>
<text x="223.75" y="986.00" font-size="11.7" font-weight="500" fill="#2f2f2f" text-anchor="start" textLength="50.00" lengthAdjust="spacingAndGlyphs">엔드포인트</text>
<text x="237.50" y="999.40" font-size="11.7" font-weight="500" fill="#2f2f2f" text-anchor="start" textLength="20.00" lengthAdjust="spacingAndGlyphs">보안</text>
<text x="232.50" y="1012.80" font-size="11.7" font-weight="500" fill="#2f2f2f" text-anchor="start" textLength="30.50" lengthAdjust="spacingAndGlyphs">솔루션</text>
<text x="287.50" y="986.00" font-size="11.7" font-weight="500" fill="#2f2f2f" text-anchor="start" textLength="56.25" lengthAdjust="spacingAndGlyphs">플랫폼보안/</text>
<text x="295.00" y="999.40" font-size="11.7" font-weight="500" fill="#2f2f2f" text-anchor="start" textLength="40.50" lengthAdjust="spacingAndGlyphs">보안관리</text>
<text x="300.00" y="1012.80" font-size="11.7" font-weight="500" fill="#2f2f2f" text-anchor="start" textLength="30.50" lengthAdjust="spacingAndGlyphs">솔루션</text>
<text x="357.50" y="986.00" font-size="11.7" font-weight="500" fill="#2f2f2f" text-anchor="start" textLength="41.25" lengthAdjust="spacingAndGlyphs">클라우드</text>
<text x="367.50" y="999.40" font-size="11.7" font-weight="500" fill="#2f2f2f" text-anchor="start" textLength="20.00" lengthAdjust="spacingAndGlyphs">보안</text>
<text x="363.00" y="1012.80" font-size="11.7" font-weight="500" fill="#2f2f2f" text-anchor="start" textLength="30.75" lengthAdjust="spacingAndGlyphs">솔루션</text>
<text x="426.25" y="986.00" font-size="11.7" font-weight="500" fill="#2f2f2f" text-anchor="start" textLength="36.25" lengthAdjust="spacingAndGlyphs">컨텐츠/</text>
<text x="428.75" y="999.40" font-size="11.7" font-weight="500" fill="#2f2f2f" text-anchor="start" textLength="30.00" lengthAdjust="spacingAndGlyphs">데이터</text>
<text x="417.50" y="1012.80" font-size="11.7" font-weight="500" fill="#2f2f2f" text-anchor="start" textLength="52.50" lengthAdjust="spacingAndGlyphs">보안 솔루션</text>
<text x="482.50" y="986.00" font-size="11.7" font-weight="500" fill="#2f2f2f" text-anchor="start" textLength="51.25" lengthAdjust="spacingAndGlyphs">공통인프라</text>
<text x="481.00" y="999.40" font-size="11.7" font-weight="500" fill="#2f2f2f" text-anchor="start" textLength="53.50" lengthAdjust="spacingAndGlyphs">보안 솔루션</text>
<text x="545.50" y="986.00" font-size="11.7" font-weight="500" fill="#2f2f2f" text-anchor="start" textLength="53.25" lengthAdjust="spacingAndGlyphs">보안 컨설팅</text>
<text x="611.25" y="986.00" font-size="11.7" font-weight="500" fill="#2f2f2f" text-anchor="start" textLength="50.75" lengthAdjust="spacingAndGlyphs">보안시스템</text>
<text x="615.00" y="999.40" font-size="11.7" font-weight="500" fill="#2f2f2f" text-anchor="start" textLength="42.50" lengthAdjust="spacingAndGlyphs">유지관리/</text>
<text x="610.50" y="1012.80" font-size="11.7" font-weight="500" fill="#2f2f2f" text-anchor="start" textLength="53.25" lengthAdjust="spacingAndGlyphs">보안성 지속</text>
<text x="621.75" y="1026.20" font-size="11.7" font-weight="500" fill="#2f2f2f" text-anchor="start" textLength="30.75" lengthAdjust="spacingAndGlyphs">서비스</text>
<text x="679.25" y="986.00" font-size="11.7" font-weight="500" fill="#2f2f2f" text-anchor="start" textLength="40.75" lengthAdjust="spacingAndGlyphs">보안관제</text>
<text x="685.50" y="999.40" font-size="11.7" font-weight="500" fill="#2f2f2f" text-anchor="start" textLength="30.25" lengthAdjust="spacingAndGlyphs">서비스</text>
<text x="740.00" y="986.00" font-size="11.7" font-weight="500" fill="#2f2f2f" text-anchor="start" textLength="53.00" lengthAdjust="spacingAndGlyphs">보안교육 및</text>
<text x="740.00" y="999.40" font-size="11.7" font-weight="500" fill="#2f2f2f" text-anchor="start" textLength="53.00" lengthAdjust="spacingAndGlyphs">훈련 서비스</text>
<text x="808.75" y="986.00" font-size="11.7" font-weight="500" fill="#2f2f2f" text-anchor="start" textLength="41.25" lengthAdjust="spacingAndGlyphs">보안인증</text>
<text x="814.25" y="999.40" font-size="11.7" font-weight="500" fill="#2f2f2f" text-anchor="start" textLength="30.25" lengthAdjust="spacingAndGlyphs">서비스</text>
<text x="885.75" y="986.00" font-size="11.7" font-weight="500" fill="#2f2f2f" text-anchor="start" textLength="19.75" lengthAdjust="spacingAndGlyphs">기타</text>
<text x="96.90" y="910.00" font-size="15.5" font-weight="700" fill="#bd4449" text-anchor="start" textLength="43.40" lengthAdjust="spacingAndGlyphs" opacity="0.9">+15.9%</text>
<path transform="translate(0,0)" d="M99,955.8 C106,955.4 113,952 118.6,947.2 C124.6,942 127.6,933 128.1,921.7 L123.1,920.4 L134,911 L144.5,922.9 L140.2,922.4 C139.4,933 134,942.6 126,948.6 C118.6,953.8 108,956.6 99,955.8 Z" fill="#c53f43"/>
<rect x="55.5" y="1059.5" width="888.3" height="257.5" fill="#fff"/>
<text x="78.75" y="1091.40" font-size="22.8" font-weight="700" fill="#58788f" text-anchor="start" textLength="126.45" lengthAdjust="spacingAndGlyphs">물리보안산업</text>
<text x="212.50" y="1091.80" font-size="18.2" font-weight="700" fill="#58788f" text-anchor="start" textLength="53.00" lengthAdjust="spacingAndGlyphs">매출액</text>
<rect x="76.5" y="1097.8999999999999" width="851.5" height="1.8" fill="#588094"/>
<rect x="77" y="1103.3" width="76" height="193.70000000000005" fill="#e4eaee"/>
<g fill="none" stroke="#dde6ea" stroke-width="5" stroke-linejoin="round" stroke-linecap="round"><rect x="496.6" y="1103.8" width="101.6" height="9.8"/><path d="M520.4,1119.6 V1127.6 H573.4 V1119.6 M530.6,1128 V1143 M564.6,1128 V1143"/><circle cx="462" cy="1204.6" r="58"/><circle cx="462" cy="1204.6" r="40"/><circle cx="463" cy="1203.6" r="24"/><circle cx="464" cy="1201.6" r="9"/><path d="M452,1147.4 Q470,1143.6 500,1143.6 H545 Q570,1146 570.4,1180 Q570,1225 530,1239 Q505,1254 470,1262"/></g>
<rect x="778.8" y="1105.5" width="147.0" height="22.0" rx="8" fill="#fff" stroke="#8fc0d3" stroke-width="1.3"/>
<circle cx="798" cy="1116.4" r="8" fill="#72c6cf"/><circle cx="870" cy="1116.4" r="8" fill="#31999f"/>
<text x="814.50" y="1121.10" font-size="13.4" font-weight="700" fill="#333" text-anchor="start" textLength="31.30" lengthAdjust="spacingAndGlyphs">2023</text>
<text x="883.80" y="1121.10" font-size="13.4" font-weight="700" fill="#333" text-anchor="start" textLength="31.70" lengthAdjust="spacingAndGlyphs">2024</text>
<text x="856.20" y="1146.60" font-size="11.6" font-weight="500" fill="#333" text-anchor="start" textLength="61.30" lengthAdjust="spacingAndGlyphs">(단위: 억 원)</text>
<path d="M96.25,1238.8 V1136.55 Q96.25,1133.75 99.05,1133.75 H112.95 Q115.75,1133.75 115.75,1136.55 V1238.8 Z" fill="#72c6cf"/>
<path d="M120,1238.8 V1129.8 Q120,1127 122.8,1127 H135.2 Q138,1127 138,1129.8 V1238.8 Z" fill="#31999f"/>
<path d="M160,1238.8 V1181.55 Q160,1178.75 162.8,1178.75 H176.7 Q179.5,1178.75 179.5,1181.55 V1238.8 Z" fill="#72c6cf"/>
<path d="M183.25,1238.8 V1176.55 Q183.25,1173.75 186.05,1173.75 H198.95 Q201.75,1173.75 201.75,1176.55 V1238.8 Z" fill="#31999f"/>
<path d="M220.5,1238.8 V1222.3 Q220.5,1219.5 223.3,1219.5 H235.95 Q238.75,1219.5 238.75,1222.3 V1238.8 Z" fill="#72c6cf"/>
<path d="M242.5,1238.8 V1222.3 Q242.5,1219.5 245.3,1219.5 H257.7 Q260.5,1219.5 260.5,1222.3 V1238.8 Z" fill="#31999f"/>
<path d="M278.75,1238.8 V1232.3 Q278.75,1229.5 281.55,1229.5 H295.2 Q298,1229.5 298,1232.3 V1238.8 Z" fill="#72c6cf"/>
<path d="M302.5,1238.8 V1217.05 Q302.5,1214.25 305.3,1214.25 H317.95 Q320.75,1214.25 320.75,1217.05 V1238.8 Z" fill="#31999f"/>
<path d="M339.25,1238.8 V1223.55 Q339.25,1220.75 342.05,1220.75 H355.2 Q358,1220.75 358,1223.55 V1238.8 Z" fill="#72c6cf"/>
<path d="M361.25,1238.8 V1225.3 Q361.25,1222.5 364.05,1222.5 H376.7 Q379.5,1222.5 379.5,1225.3 V1238.8 Z" fill="#31999f"/>
<path d="M398,1238.8 V1232.05 Q398,1229.25 400.8,1229.25 H413.45 Q416.25,1229.25 416.25,1232.05 V1238.8 Z" fill="#72c6cf"/>
<path d="M420,1238.8 V1232.05 Q420,1229.25 422.8,1229.25 H437.2 Q440,1229.25 440,1232.05 V1238.8 Z" fill="#31999f"/>
<path d="M459.5,1238.8 V1209.05 Q459.5,1206.25 462.3,1206.25 H474.2 Q477,1206.25 477,1209.05 V1238.8 Z" fill="#72c6cf"/>
<path d="M480.5,1238.8 V1212.3 Q480.5,1209.5 483.3,1209.5 H495.95 Q498.75,1209.5 498.75,1212.3 V1238.8 Z" fill="#31999f"/>
<path d="M517.5,1238.8 V1216.05 Q517.5,1213.25 520.3,1213.25 H533.45 Q536.25,1213.25 536.25,1216.05 V1238.8 Z" fill="#72c6cf"/>
<path d="M540,1238.8 V1217.05 Q540,1214.25 542.8,1214.25 H555.95 Q558.75,1214.25 558.75,1217.05 V1238.8 Z" fill="#31999f"/>
<path d="M576.25,1238.8 V1232.05 Q576.25,1229.25 579.05,1229.25 H592.95 Q595.75,1229.25 595.75,1232.05 V1238.8 Z" fill="#72c6cf"/>
<path d="M600,1238.8 V1232.05 Q600,1229.25 602.8,1229.25 H615.2 Q618,1229.25 618,1232.05 V1238.8 Z" fill="#31999f"/>
<path d="M637,1238.8 V1232.05 Q637,1229.25 639.8,1229.25 H652.2 Q655,1229.25 655,1232.05 V1238.8 Z" fill="#72c6cf"/>
<path d="M658.75,1238.8 V1227.3 Q658.75,1224.5 661.55,1224.5 H673.95 Q676.75,1224.5 676.75,1227.3 V1238.8 Z" fill="#31999f"/>
<path d="M695.75,1238.8 V1194.55 Q695.75,1191.75 698.55,1191.75 H712.7 Q715.5,1191.75 715.5,1194.55 V1238.8 Z" fill="#72c6cf"/>
<path d="M719.5,1238.8 V1191.05 Q719.5,1188.25 722.3,1188.25 H734.7 Q737.5,1188.25 737.5,1191.05 V1238.8 Z" fill="#31999f"/>
<path d="M756.25,1238.8 V1232.05 Q756.25,1229.25 759.05,1229.25 H771.45 Q774.25,1229.25 774.25,1232.05 V1238.8 Z" fill="#72c6cf"/>
<path d="M778.25,1238.8 V1232.05 Q778.25,1229.25 781.05,1229.25 H793.45 Q796.25,1229.25 796.25,1232.05 V1238.8 Z" fill="#31999f"/>
<path d="M815.75,1238.8 V1237.85 Q815.75,1236.9 816.6999999999999,1236.9 H832.3000000000001 Q833.25,1236.9 833.25,1237.85 V1238.8 Z" fill="#72c6cf"/>
<path d="M837.5,1238.8 V1237.85 Q837.5,1236.9 838.4499999999999,1236.9 H855.3000000000001 Q856.25,1236.9 856.25,1237.85 V1238.8 Z" fill="#31999f"/>
<path d="M875,1238.8 V1206.05 Q875,1203.25 877.8,1203.25 H890.95 Q893.75,1203.25 893.75,1206.05 V1238.8 Z" fill="#72c6cf"/>
<path d="M897.5,1238.8 V1206.05 Q897.5,1203.25 900.3,1203.25 H912.7 Q915.5,1203.25 915.5,1206.05 V1238.8 Z" fill="#31999f"/>
<rect x="88.9" y="1238.0" width="831.6" height="1.6" fill="#3c3c3c"/>
<text x="79.50" y="1129.50" font-size="14.2" font-weight="400" fill="#2d2d2d" text-anchor="start" textLength="36.75" lengthAdjust="spacingAndGlyphs">106,856</text>
<text x="115.00" y="1119.50" font-size="14.2" font-weight="400" fill="#2d2d2d" text-anchor="start" textLength="35.50" lengthAdjust="spacingAndGlyphs">114,701</text>
<text x="147.50" y="1170.75" font-size="14.2" font-weight="400" fill="#2d2d2d" text-anchor="start" textLength="28.75" lengthAdjust="spacingAndGlyphs">22,603</text>
<text x="179.25" y="1164.50" font-size="14.2" font-weight="400" fill="#2d2d2d" text-anchor="start" textLength="28.75" lengthAdjust="spacingAndGlyphs">24,612</text>
<text x="210.00" y="1209.25" font-size="14.2" font-weight="400" fill="#2d2d2d" text-anchor="start" textLength="25.00" lengthAdjust="spacingAndGlyphs">7,014</text>
<text x="238.25" y="1216.25" font-size="14.2" font-weight="400" fill="#2d2d2d" text-anchor="start" textLength="25.50" lengthAdjust="spacingAndGlyphs">6,914</text>
<text x="272.00" y="1224.25" font-size="14.2" font-weight="400" fill="#2d2d2d" text-anchor="start" textLength="25.00" lengthAdjust="spacingAndGlyphs">3,602</text>
<text x="299.25" y="1210.00" font-size="14.2" font-weight="400" fill="#2d2d2d" text-anchor="start" textLength="25.75" lengthAdjust="spacingAndGlyphs">8,757</text>
<text x="330.00" y="1212.00" font-size="14.2" font-weight="400" fill="#2d2d2d" text-anchor="start" textLength="25.75" lengthAdjust="spacingAndGlyphs">6,724</text>
<text x="358.75" y="1217.50" font-size="14.2" font-weight="400" fill="#2d2d2d" text-anchor="start" textLength="26.25" lengthAdjust="spacingAndGlyphs">6,229</text>
<text x="390.50" y="1225.00" font-size="14.2" font-weight="400" fill="#2d2d2d" text-anchor="start" textLength="25.00" lengthAdjust="spacingAndGlyphs">3,421</text>
<text x="418.00" y="1217.00" font-size="14.2" font-weight="400" fill="#2d2d2d" text-anchor="start" textLength="25.75" lengthAdjust="spacingAndGlyphs">3,588</text>
<text x="445.75" y="1196.25" font-size="14.2" font-weight="400" fill="#2d2d2d" text-anchor="start" textLength="30.50" lengthAdjust="spacingAndGlyphs">12,269</text>
<text x="477.00" y="1207.50" font-size="14.2" font-weight="400" fill="#2d2d2d" text-anchor="start" textLength="30.50" lengthAdjust="spacingAndGlyphs">10,768</text>
<text x="511.25" y="1203.75" font-size="14.2" font-weight="400" fill="#2d2d2d" text-anchor="start" textLength="25.75" lengthAdjust="spacingAndGlyphs">9,404</text>
<text x="539.25" y="1210.50" font-size="14.2" font-weight="400" fill="#2d2d2d" text-anchor="start" textLength="25.25" lengthAdjust="spacingAndGlyphs">8,761</text>
<text x="567.50" y="1222.00" font-size="14.2" font-weight="400" fill="#2d2d2d" text-anchor="start" textLength="26.25" lengthAdjust="spacingAndGlyphs">3,266</text>
<text x="597.50" y="1222.00" font-size="14.2" font-weight="400" fill="#2d2d2d" text-anchor="start" textLength="25.50" lengthAdjust="spacingAndGlyphs">3,227</text>
<text x="630.00" y="1225.00" font-size="14.2" font-weight="400" fill="#2d2d2d" text-anchor="start" textLength="26.25" lengthAdjust="spacingAndGlyphs">3,640</text>
<text x="658.75" y="1217.00" font-size="14.2" font-weight="400" fill="#2d2d2d" text-anchor="start" textLength="25.75" lengthAdjust="spacingAndGlyphs">5,403</text>
<text x="685.50" y="1188.25" font-size="14.2" font-weight="400" fill="#2d2d2d" text-anchor="start" textLength="30.75" lengthAdjust="spacingAndGlyphs">18,026</text>
<text x="718.00" y="1180.50" font-size="14.2" font-weight="400" fill="#2d2d2d" text-anchor="start" textLength="30.75" lengthAdjust="spacingAndGlyphs">19,260</text>
<text x="749.25" y="1218.25" font-size="14.2" font-weight="400" fill="#2d2d2d" text-anchor="start" textLength="25.75" lengthAdjust="spacingAndGlyphs">3,392</text>
<text x="778.25" y="1222.50" font-size="14.2" font-weight="400" fill="#2d2d2d" text-anchor="start" textLength="25.00" lengthAdjust="spacingAndGlyphs">3,251</text>
<text x="816.75" y="1230.00" font-size="14.2" font-weight="400" fill="#2d2d2d" text-anchor="start" textLength="16.50" lengthAdjust="spacingAndGlyphs">332</text>
<text x="839.25" y="1230.00" font-size="14.2" font-weight="400" fill="#2d2d2d" text-anchor="start" textLength="17.00" lengthAdjust="spacingAndGlyphs">353</text>
<text x="863.75" y="1200.00" font-size="14.2" font-weight="400" fill="#2d2d2d" text-anchor="start" textLength="30.00" lengthAdjust="spacingAndGlyphs">13,163</text>
<text x="894.50" y="1193.75" font-size="14.2" font-weight="400" fill="#2d2d2d" text-anchor="start" textLength="31.25" lengthAdjust="spacingAndGlyphs">13,578</text>
<text x="97.50" y="1260.00" font-size="11.7" font-weight="500" fill="#2f2f2f" text-anchor="start" textLength="41.25" lengthAdjust="spacingAndGlyphs">물리보안</text>
<text x="110.00" y="1273.00" font-size="11.7" font-weight="500" fill="#2f2f2f" text-anchor="start" textLength="18.75" lengthAdjust="spacingAndGlyphs">전체</text>
<text x="162.50" y="1260.00" font-size="11.7" font-weight="500" fill="#2f2f2f" text-anchor="start" textLength="30.00" lengthAdjust="spacingAndGlyphs">보안용</text>
<text x="163.25" y="1273.00" font-size="11.7" font-weight="500" fill="#2f2f2f" text-anchor="start" textLength="29.75" lengthAdjust="spacingAndGlyphs">카메라</text>
<text x="221.75" y="1260.00" font-size="11.7" font-weight="500" fill="#2f2f2f" text-anchor="start" textLength="30.25" lengthAdjust="spacingAndGlyphs">보안용</text>
<text x="218.00" y="1273.00" font-size="11.7" font-weight="500" fill="#2f2f2f" text-anchor="start" textLength="39.50" lengthAdjust="spacingAndGlyphs">저장장치</text>
<text x="277.50" y="1260.00" font-size="11.7" font-weight="500" fill="#2f2f2f" text-anchor="start" textLength="40.00" lengthAdjust="spacingAndGlyphs">보안장비</text>
<text x="287.50" y="1273.00" font-size="11.7" font-weight="500" fill="#2f2f2f" text-anchor="start" textLength="21.25" lengthAdjust="spacingAndGlyphs">부품</text>
<text x="337.50" y="1260.00" font-size="11.7" font-weight="500" fill="#2f2f2f" text-anchor="start" textLength="40.00" lengthAdjust="spacingAndGlyphs">물리보안</text>
<text x="343.75" y="1273.00" font-size="11.7" font-weight="500" fill="#2f2f2f" text-anchor="start" textLength="30.00" lengthAdjust="spacingAndGlyphs">솔루션</text>
<text x="397.50" y="1260.00" font-size="11.7" font-weight="500" fill="#2f2f2f" text-anchor="start" textLength="40.00" lengthAdjust="spacingAndGlyphs">물리보안</text>
<text x="398.75" y="1273.00" font-size="11.7" font-weight="500" fill="#2f2f2f" text-anchor="start" textLength="39.25" lengthAdjust="spacingAndGlyphs">주변장비</text>
<text x="456.25" y="1260.00" font-size="11.7" font-weight="500" fill="#2f2f2f" text-anchor="start" textLength="41.25" lengthAdjust="spacingAndGlyphs">출입통제</text>
<text x="467.50" y="1273.00" font-size="11.7" font-weight="500" fill="#2f2f2f" text-anchor="start" textLength="20.00" lengthAdjust="spacingAndGlyphs">장비</text>
<text x="517.50" y="1260.00" font-size="11.7" font-weight="500" fill="#2f2f2f" text-anchor="start" textLength="40.50" lengthAdjust="spacingAndGlyphs">생체인식</text>
<text x="513.00" y="1273.00" font-size="11.7" font-weight="500" fill="#2f2f2f" text-anchor="start" textLength="50.75" lengthAdjust="spacingAndGlyphs">보안시스템</text>
<text x="576.25" y="1260.00" font-size="11.7" font-weight="500" fill="#2f2f2f" text-anchor="start" textLength="45.00" lengthAdjust="spacingAndGlyphs">경보/감시</text>
<text x="589.50" y="1273.00" font-size="11.7" font-weight="500" fill="#2f2f2f" text-anchor="start" textLength="19.25" lengthAdjust="spacingAndGlyphs">장비</text>
<text x="637.00" y="1260.00" font-size="11.7" font-weight="500" fill="#2f2f2f" text-anchor="start" textLength="41.75" lengthAdjust="spacingAndGlyphs">기타 제품</text>
<text x="696.25" y="1260.00" font-size="11.7" font-weight="500" fill="#2f2f2f" text-anchor="start" textLength="40.75" lengthAdjust="spacingAndGlyphs">출동보안</text>
<text x="703.75" y="1273.00" font-size="11.7" font-weight="500" fill="#2f2f2f" text-anchor="start" textLength="29.50" lengthAdjust="spacingAndGlyphs">서비스</text>
<text x="757.50" y="1260.00" font-size="11.7" font-weight="500" fill="#2f2f2f" text-anchor="start" textLength="40.50" lengthAdjust="spacingAndGlyphs">영상보안</text>
<text x="763.75" y="1273.00" font-size="11.7" font-weight="500" fill="#2f2f2f" text-anchor="start" textLength="30.00" lengthAdjust="spacingAndGlyphs">서비스</text>
<text x="816.25" y="1260.00" font-size="11.7" font-weight="500" fill="#2f2f2f" text-anchor="start" textLength="40.75" lengthAdjust="spacingAndGlyphs">클라우드</text>
<text x="823.25" y="1273.00" font-size="11.7" font-weight="500" fill="#2f2f2f" text-anchor="start" textLength="29.75" lengthAdjust="spacingAndGlyphs">서비스</text>
<text x="886.25" y="1260.00" font-size="11.7" font-weight="500" fill="#2f2f2f" text-anchor="start" textLength="20.00" lengthAdjust="spacingAndGlyphs">기타</text>
<text x="870.75" y="1273.00" font-size="11.7" font-weight="500" fill="#2f2f2f" text-anchor="start" textLength="53.00" lengthAdjust="spacingAndGlyphs">보안 서비스</text>
<text x="96.20" y="1182.80" font-size="15.5" font-weight="700" fill="#bd4449" text-anchor="start" textLength="38.00" lengthAdjust="spacingAndGlyphs" opacity="0.9">+7.3%</text>
<path transform="translate(-5.7,272.9)" d="M99,955.8 C106,955.4 113,952 118.6,947.2 C124.6,942 127.6,933 128.1,921.7 L123.1,920.4 L134,911 L144.5,922.9 L140.2,922.4 C139.4,933 134,942.6 126,948.6 C118.6,953.8 108,956.6 99,955.8 Z" fill="#c53f43"/>
</svg></body></html>
